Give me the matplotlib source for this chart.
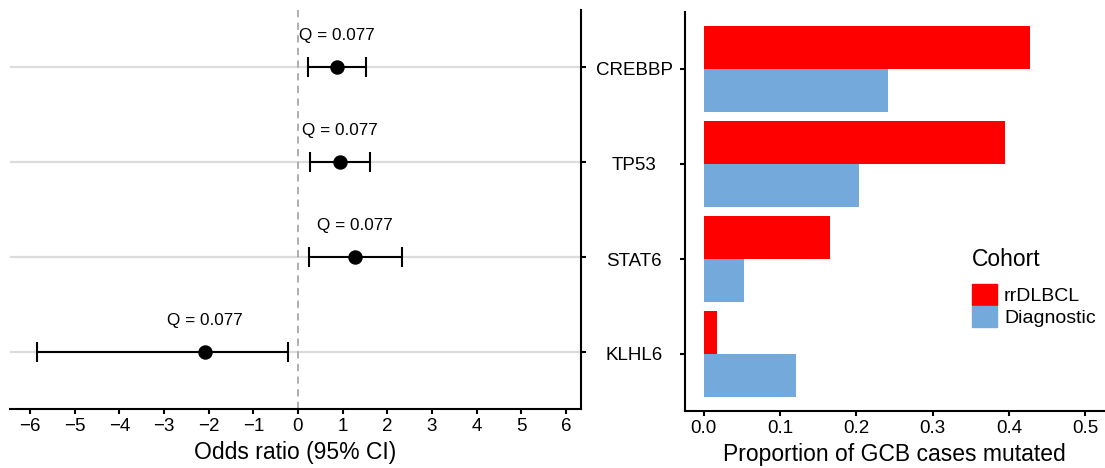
import numpy as np
import matplotlib
matplotlib.use("Agg")
import matplotlib.pyplot as plt
from matplotlib.patches import Patch

plt.rcParams['font.family'] = ['Liberation Sans', 'DejaVu Sans']

# genes listed top to bottom
genes = ['CREBBP', 'TP53', 'STAT6', 'KLHL6']
odds = [0.87, 0.95, 1.28, -2.09]
ci_low = [0.22, 0.26, 0.24, -5.85]
ci_high = [1.53, 1.62, 2.33, -0.22]
q_text = ['Q = 0.077', 'Q = 0.077', 'Q = 0.077', 'Q = 0.077']

cohorts = ['rrDLBCL', 'Diagnostic']
rr_prop = [0.428, 0.395, 0.165, 0.017]
diag_prop = [0.241, 0.204, 0.053, 0.121]

red = '#FF0000'
blue = '#74A9DC'
W, H = 1105, 468

fig = plt.figure(figsize=(W / 100, H / 100), dpi=100)
ax1 = fig.add_axes([10 / W, 1 - 409 / H, 571 / W, 399 / H])
ax2 = fig.add_axes([684.7 / W, 1 - 411 / H, 419.5 / W, 399 / H])

ypos = np.arange(len(genes), 0, -1)

# forest plot
for y in ypos:
    ax1.axhline(y, color='#dcdcdc', lw=1.6, zorder=0)
ax1.axvline(0, color='#a8a8a8', lw=1.3, ls=(0, (4, 3)), zorder=1)
err = [np.array(odds) - np.array(ci_low), np.array(ci_high) - np.array(odds)]
ax1.errorbar(odds, ypos, xerr=err, fmt='o', color='black', ms=9.4,
             elinewidth=1.5, capsize=7.2, capthick=1.5, zorder=3)
for x, y, t in zip(odds, ypos, q_text):
    ax1.text(x, y + 0.33, t, ha='center', va='center', fontsize=12.3)

ax1.set_xlim(-6.45, 6.34)
ax1.set_ylim(0.4, 4.6)
ax1.set_xticks(range(-6, 7))
ax1.set_yticks(ypos)
ax1.yaxis.tick_right()
ax1.set_yticklabels([])
ax1.spines['left'].set_visible(False)
ax1.spines['top'].set_visible(False)
ax1.set_xlabel('Odds ratio (95% CI)', fontsize=16.5, labelpad=4)

# proportion bars
h = 0.45
ax2.barh(ypos + h / 2, rr_prop, height=h, color=red, label=cohorts[0])
ax2.barh(ypos - h / 2, diag_prop, height=h, color=blue, label=cohorts[1])
ax2.set_xlim(-0.025, 0.525)
ax2.set_ylim(0.4, 4.6)
ax2.set_xticks(np.arange(0, 0.51, 0.1))
ax2.set_xticklabels(['0.0', '0.1', '0.2', '0.3', '0.4', '0.5'])
ax2.set_yticks(ypos)
ax2.set_yticklabels(genes)
ax2.spines['right'].set_visible(False)
ax2.spines['top'].set_visible(False)
ax2.set_xlabel('Proportion of GCB cases mutated', fontsize=16.5, labelpad=4)

for ax in (ax1, ax2):
    for s in ax.spines.values():
        s.set_linewidth(1.5)
    ax.tick_params(length=3.5, width=1.5, labelsize=13.5, pad=3)
ax2.tick_params(axis='y', pad=33)
for t in ax2.get_yticklabels():
    t.set_horizontalalignment('center')

handles = [Patch(color=red), Patch(color=blue)]
leg = ax2.legend(handles, cohorts, title='Cohort', loc='upper left',
                 bbox_to_anchor=(972 / W, 1 - 248 / H),
                 bbox_transform=fig.transFigure, frameon=False,
                 fontsize=14, title_fontsize=16.5, borderpad=0,
                 borderaxespad=0, handlelength=1.29, handleheight=1.3,
                 handletextpad=0.36, labelspacing=0.05)
leg._legend_box.align = 'left'
leg._legend_box.sep = 9

fig.savefig('out.png', dpi=100)
